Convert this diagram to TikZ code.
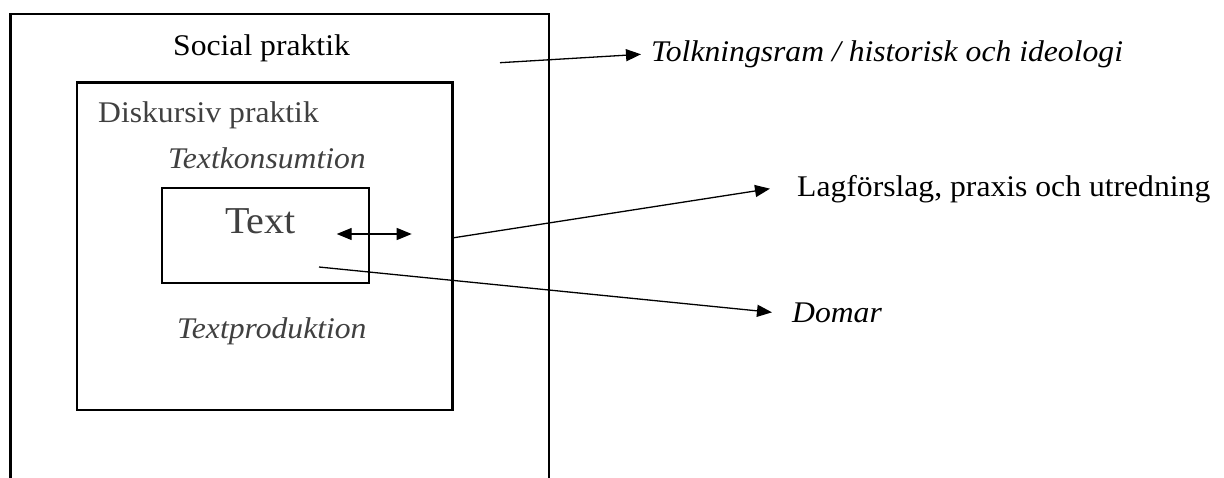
\documentclass[tikz,border=0pt]{standalone}
\usepackage{fontspec}
\setmainfont{Liberation Serif}[FakeStretch=1.055]
\usetikzlibrary{arrows.meta}
\definecolor{txtgray}{HTML}{404040}
\tikzset{
  frame/.style={draw=black, line width=2.4pt, line join=miter},
  boxnode/.style={draw=black, line width=2.3pt, inner sep=0pt, outer sep=0pt},
  lbl/.style={inner sep=0pt, anchor=base west, font=\fontsize{30}{35}\selectfont},
  lblit/.style={inner sep=0pt, anchor=base west, font=\fontsize{30}{35}\selectfont\itshape},
  tip/.style={},
  conn/.style={line width=1.3pt, -{Triangle[length=15pt,width=12pt]}},
  biconn/.style={line width=1.3pt, {Triangle[length=15pt,width=12pt]}-{Triangle[length=15pt,width=12pt]}},
}
\begin{document}
\begin{tikzpicture}[x=1pt, y=-1pt]
\fill[white] (0,0) rectangle (1224,477);
\useasboundingbox (0,0) rectangle (1224,477);
% outer frame (open at bottom, runs off the page)
\coordinate (obl) at (10.5,495);
\coordinate (otl) at (10.5,14);
\coordinate (otr) at (549,14);
\coordinate (obr) at (549,495);
\draw[frame] (obl) -- (otl) -- (otr) -- (obr);
% inner boxes
\node[boxnode, minimum width=375.8pt, minimum height=327.7pt] (disk) at (264.6,246.2) {};
\node[boxnode, minimum width=207.3pt, minimum height=94.4pt] (textbox) at (265.4,235.5) {};
% texts
\node[lbl] (social) at (173,55) {Social praktik};
\node[lbl, text=txtgray] (diskurs) at (98,122) {Diskursiv praktik};
\node[lblit, text=txtgray] (konsum) at (168,168) {Textkonsumtion};
\node[inner sep=0pt, anchor=base west, font=\fontsize{38}{43}\selectfont, text=txtgray] (text) at (225,233) {Text};
\node[lblit, text=txtgray] (prod) at (177,338) {Textproduktion};
\node[lblit] (tolk) at (651,61.5) {Tolkningsram / historisk och ideologi};
\node[lbl] (lag) at (797,196) {Lagförslag, praxis och utredning};
\node[lblit] (dom) at (792,322) {Domar};
% connectors
\coordinate (tolkS) at (500,62.7);
\coordinate (lagS) at (454,237.7);
\coordinate (domS) at (319,267);
\coordinate (biL) at (336.7,234);
\coordinate (biR) at (411.7,234);
\draw[conn] (tolkS) -- ([xshift=-10pt]tolk.west);
\draw[conn] (lagS) -- ([xshift=-27pt]lag.west);
\draw[conn] (domS) -- ([xshift=-20pt]dom.west);
\draw[biconn] (biL) -- (biR);
\end{tikzpicture}
\end{document}
